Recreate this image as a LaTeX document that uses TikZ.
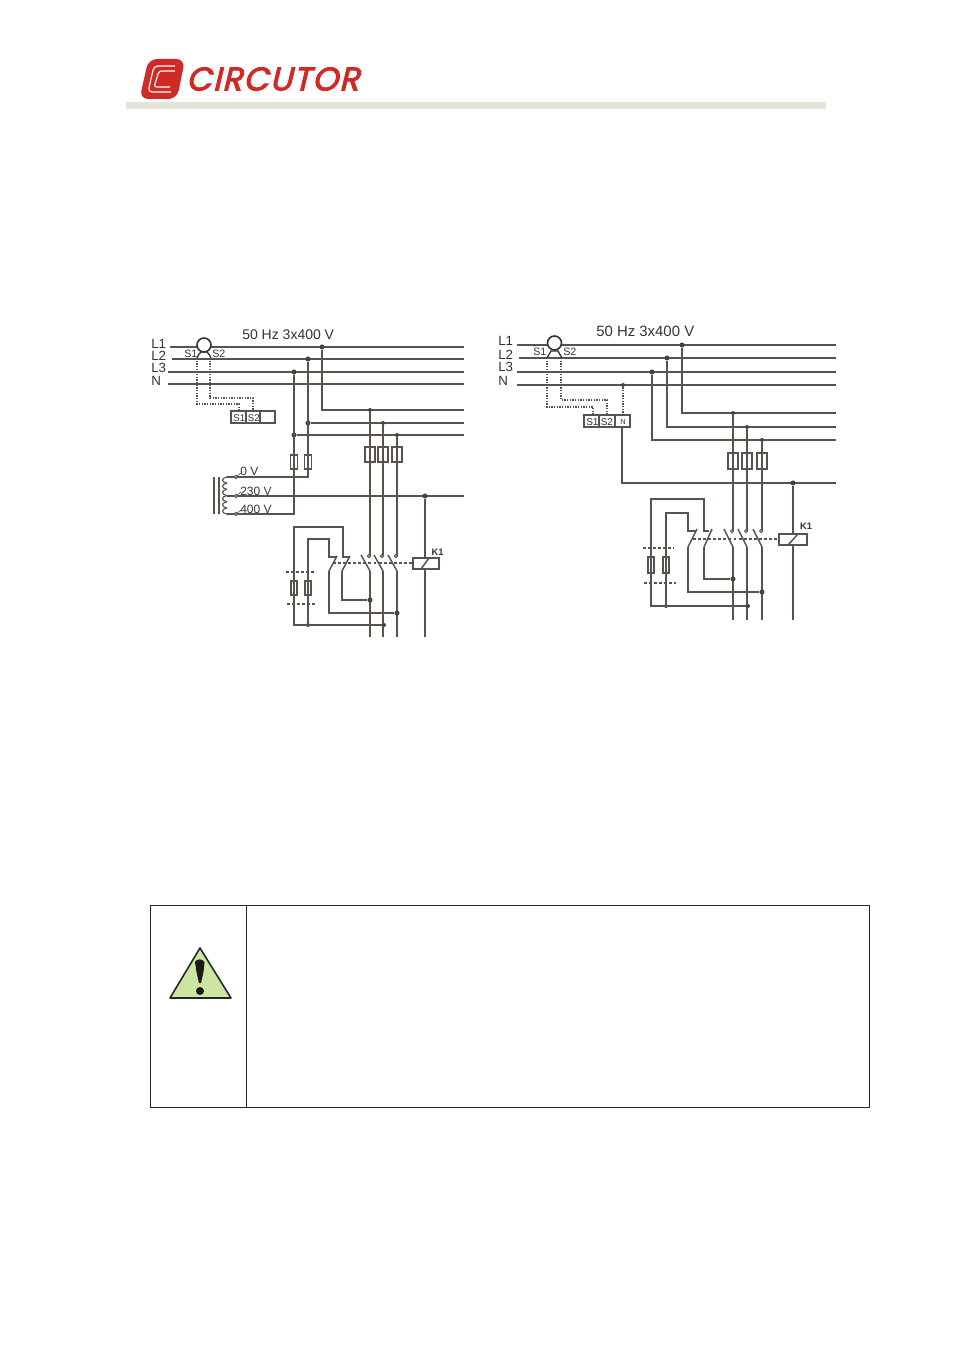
\documentclass[tikz,border=0pt]{standalone}
\usepackage{fontspec}
\setmainfont{Liberation Sans}
\newfontfamily\logofont[FakeSlant=0.24,FakeBold=3,LetterSpace=4]{Poppins}
\definecolor{wire}{HTML}{5A524C}
\definecolor{logored}{HTML}{D02A26}
\definecolor{barcol}{HTML}{E6E3DB}
\definecolor{warn}{HTML}{CDE5A2}
\tikzset{
  wireline/.style={draw=wire,line width=1.1pt},
  thinline/.style={draw=wire,line width=0.85pt},
  dotline/.style={draw=wire,line width=1.05pt,dash pattern=on 1.1pt off 0.9pt},
  mech/.style={draw=wire,line width=0.9pt,dash pattern=on 2.2pt off 1.6pt},
  jdot/.style={circle,fill=wire!80!black,inner sep=0pt,minimum size=3.8pt},
  sdot/.style={circle,fill=wire!80!black,inner sep=0pt,minimum size=3pt},
  term/.style={circle,draw=wire,fill=white,line width=0.7pt,inner sep=0pt,minimum size=2.4pt},
  lab/.style={inner sep=0pt,text=black!80,anchor=base west},
}
\begin{document}
\begin{tikzpicture}[x=0.75pt,y=-0.75pt]
\useasboundingbox (0,0) rectangle (954,1351);
% --- header
\fill[barcol] (126,102) rectangle (826,109);
\fill[logored,rounded corners=6.5pt] (148.5,59) -- (185,59) -- (177,99) -- (139.5,99) -- cycle;
\draw[white,line width=0.85pt,rounded corners=3pt] (175,66) -- (154,66) -- (148,92) -- (171,92);
\draw[white,line width=0.85pt,rounded corners=2pt] (175,71) -- (159,71) -- (154,87) -- (170,87);
\node[inner sep=0pt,text=logored,anchor=west] (logo) at (186,79) {\logofont\fontsize{24.5}{25}\selectfont CIRCUTOR};
% --- left diagram: bus bars
\draw[wireline] (170,347) coordinate (aL1) -- (464,347);
\draw[wireline] (172,359) coordinate (aL2) -- (464,359);
\draw[wireline] (168,372) coordinate (aL3) -- (464,372);
\draw[wireline] (168,384) coordinate (aN) -- (464,384);
\node[lab,font=\fontsize{10.5}{12}\selectfont] (atitle) at (242,340) {50 Hz 3x400 V};
\node[lab,font=\fontsize{10}{12}\selectfont] (a1) at (151,349) {L1};
\node[lab,font=\fontsize{10}{12}\selectfont] (a2) at (151,361) {L2};
\node[lab,font=\fontsize{10}{12}\selectfont] (a3) at (151,373) {L3};
\node[lab,font=\fontsize{10}{12}\selectfont] (a4) at (151,385) {N};
\node[lab,font=\fontsize{8}{9}\selectfont] (as1) at (184,358) {S1};
\node[lab,font=\fontsize{8}{9}\selectfont] (as2) at (212,358) {S2};
% CT
\draw[draw=black!80,fill=white,line width=1.2pt] (204,345) circle (7);
\draw[draw=black!80,line width=1pt] (197,358) .. controls (199,354) .. (201,352) -- (207,352) .. controls (209,354) .. (211,358);
\draw[dotline] (197,358) -- (197,404) -- (239,404) -- (239,411);
\draw[dotline] (210,358) -- (210,398) -- (253,398) -- (253,411);
\draw[thinline,line width=0.8pt] (231,411) rectangle (275,423) (246,411) -- (246,423) (260,411) -- (260,423);
\node[lab,font=\fontsize{7.3}{9}\selectfont] (ab1) at (233,421) {S1};
\node[lab,font=\fontsize{7.3}{9}\selectfont] (ab2) at (247.5,421) {S2};
% feeders
\node[jdot] (aj1) at (294,372) {};
\node[jdot] (aj2) at (308,359) {};
\node[jdot] (aj3) at (322,347) {};
\node[jdot] (aj4) at (294,435) {};
\node[jdot] (aj5) at (308,423) {};
\draw[wireline] (aj1) -- (294,514) -- (237,514);
\draw[wireline] (aj2) -- (308,477) -- (237,477);
\draw[wireline] (aj3) -- (322,410) -- (464,410);
\draw[wireline] (aj5) -- (464,423);
\draw[wireline] (aj4) -- (464,435);
\draw[wireline] (237,496) -- (464,496);
\foreach \x in {294,308}{\draw[wireline] (\x-3.5,455) rectangle (\x+3.5,469);}
% transformer
\draw[wireline] (214,477) -- (214,514) (219,477) -- (219,514);
\foreach \y in {477,483.2,489.4,495.6,501.8,508}{
  \draw[thinline] (227,\y) .. controls (221,\y+1) and (221,\y+5) .. (227,\y+6.2);}
\draw[thinline] (227,477) -- (236,477) (227,496) -- (236,496) (227,514) -- (236,514);
\foreach \n/\y in {t1/477,t2/496,t3/514}{
  \draw[thinline,line width=0.5pt] (236,\y) -- (241,\y-4);
  \node[term] (a\n) at (236,\y) {};}
\node[lab,font=\fontsize{9}{10}\selectfont] (av0) at (240,475) {0 V};
\node[lab,font=\fontsize{9}{10}\selectfont] (av1) at (240,495) {230 V};
\node[lab,font=\fontsize{9}{10}\selectfont] (av2) at (240,513) {400 V};
% main contactor
\node[sdot] (ap1) at (370,410) {};
\node[sdot] (ap2) at (383,423) {};
\node[sdot] (ap3) at (397,435) {};
\foreach \x/\n in {370/ap1,383/ap2,397/ap3}{
  \draw[wireline] (\n) -- (\x,556);
  \draw[wireline] (\x-9,555) -- (\x,571);
  \draw[wireline] (\x,571) -- (\x,637);
  \draw[wireline] (\x-5,447) rectangle (\x+5,462);
  \node[term] at (\x-1,556) {};}
\node[jdot] (ak) at (425,496) {};
\draw[wireline] (ak) -- (425,558) (425,569) -- (425,637);
\draw[wireline] (413,558) rectangle (439,569);
\draw[wireline] (421,569) -- (429,558);
\node[inner sep=0pt,font=\fontsize{7}{8}\selectfont\bfseries,text=black!80] (ak1) at (437.5,552) {K1};
\draw[mech] (333,563) -- (413,563);
\draw[mech] (286,572) -- (316,572);
\draw[mech] (287,604) -- (317,604);
% auxiliary
\node[jdot] (ax1) at (370,600) {};
\node[jdot] (ax2) at (397,613) {};
\node[sdot] (ax3) at (308,625) {};
\node[sdot] (ax4) at (384,625) {};
\draw[wireline] (350,557) -- (343,557) -- (343,527) -- (294,527) -- (294,625) -- (ax4);
\draw[wireline] (336,557) -- (329,557) -- (329,539) -- (308,539) -- (ax3);
\draw[wireline] (350,556) -- (342,571);
\draw[wireline] (342,571) -- (342,600) -- (ax1);
\draw[wireline] (337,556) -- (329,571);
\draw[wireline] (329,571) -- (329,613) -- (ax2);
\foreach \x in {294,308}{\draw[wireline] (\x-3,581) rectangle (\x+3,595);}
% --- right diagram
\draw[wireline] (517,345) coordinate (bL1) -- (836,345);
\draw[wireline] (519,358) coordinate (bL2) -- (836,358);
\draw[wireline] (517,372) coordinate (bL3) -- (836,372);
\draw[wireline] (517,385) coordinate (bN) -- (836,385);
\node[lab,font=\fontsize{11.2}{12}\selectfont] (btitle) at (596,337) {50 Hz 3x400 V};
\node[lab,font=\fontsize{10}{12}\selectfont] (b1) at (498,346) {L1};
\node[lab,font=\fontsize{10}{12}\selectfont] (b2) at (498,359) {L2};
\node[lab,font=\fontsize{10}{12}\selectfont] (b3) at (498,372) {L3};
\node[lab,font=\fontsize{10}{12}\selectfont] (b4) at (498,386) {N};
\node[lab,font=\fontsize{8}{9}\selectfont] (bs1) at (533,356) {S1};
\node[lab,font=\fontsize{8}{9}\selectfont] (bs2) at (563,356) {S2};
\draw[draw=black!80,fill=white,line width=1.2pt] (554.5,343) circle (7);
\draw[draw=black!80,line width=1pt] (547,358) .. controls (549,354) .. (551,351) -- (558,351) .. controls (560,354) .. (562,358);
\draw[dotline] (547,358) -- (547,407) -- (593,407) -- (593,415);
\draw[dotline] (561,358) -- (561,400) -- (607,400) -- (607,415);
\node[sdot] (bnd) at (623,385) {};
\draw[dotline] (bnd) -- (623,415);
\draw[thinline,line width=0.9pt] (584,415) rectangle (630,427) (599,415) -- (599,427) (615,415) -- (615,427);
\node[lab,font=\fontsize{7.5}{9}\selectfont] (bb1) at (586,425) {S1};
\node[lab,font=\fontsize{7.5}{9}\selectfont] (bb2) at (600.5,425) {S2};
\node[lab,font=\fontsize{5.5}{6}\selectfont] (bb3) at (620,424) {N};
\draw[wireline] (622,427) -- (622,483) -- (836,483);
\node[jdot] (bj1) at (652,372) {};
\node[jdot] (bj2) at (667,358) {};
\node[jdot] (bj3) at (682,345) {};
\draw[wireline] (bj1) -- (652,440) -- (836,440);
\draw[wireline] (bj2) -- (667,427) -- (836,427);
\draw[wireline] (bj3) -- (682,413) -- (836,413);
\node[sdot] (bp1) at (733,413) {};
\node[sdot] (bp2) at (747,427) {};
\node[sdot] (bp3) at (762,440) {};
\foreach \x/\n in {733/bp1,747/bp2,762/bp3}{
  \draw[wireline] (\n) -- (\x,531);
  \draw[wireline] (\x-9,529) -- (\x,547);
  \draw[wireline] (\x,547) -- (\x,620);
  \draw[wireline] (\x-5,453) rectangle (\x+5,469);
  \node[term] at (\x-1,531) {};}
\node[jdot] (bk) at (793,483) {};
\draw[wireline] (bk) -- (793,534) (793,545) -- (793,620);
\draw[wireline] (779,534) rectangle (807,545);
\draw[wireline] (788,545) -- (798,534);
\node[inner sep=0pt,font=\fontsize{7}{8}\selectfont\bfseries,text=black!80] (bk1) at (806,526) {K1};
\draw[mech] (693,539) -- (779,539);
\draw[mech] (643,548) -- (674,548);
\draw[mech] (644,583) -- (676,583);
\node[jdot] (bx1) at (733,579) {};
\node[jdot] (bx2) at (762,592) {};
\node[sdot] (bx3) at (666,606) {};
\node[sdot] (bx4) at (748,606) {};
\draw[wireline] (709,531) -- (704,531) -- (704,499) -- (651,499) -- (651,606) -- (bx4);
\draw[wireline] (696,531) -- (688,531) -- (688,513) -- (666,513) -- (bx3);
\draw[wireline] (712,529) -- (704,547);
\draw[wireline] (704,547) -- (704,579) -- (bx1);
\draw[wireline] (697,529) -- (688,547);
\draw[wireline] (688,547) -- (688,592) -- (bx2);
\foreach \x in {651,666}{\draw[wireline] (\x-3,557) rectangle (\x+3,573);}
% --- warning table
\draw[black!85,line width=0.75pt] (150.5,905) rectangle (869.5,1107) (246.5,905) -- (246.5,1107);
\draw[black!85,fill=warn,line width=1.2pt,line join=round] (200,948) -- (231,998) -- (170,998) -- cycle;
\fill[black!90] (195,962) .. controls (196,958.5) and (203,958.5) .. (204.5,962) -- (203.5,972) -- (201,983) -- (199,983) -- (196.5,972) -- cycle;
\fill[black!90] (200,991) circle (4);
\end{tikzpicture}
\end{document}
